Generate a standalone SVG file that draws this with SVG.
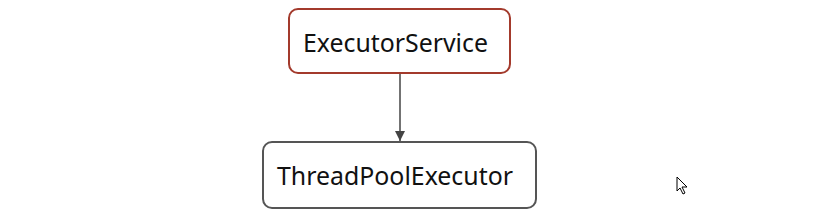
<svg xmlns="http://www.w3.org/2000/svg" width="833" height="217" viewBox="0 0 833 217">
<style>
.box{fill:#fff;stroke-width:2}
.lbl{font-family:"Noto Sans","Open Sans",sans-serif;font-size:25px;fill:#111}
</style>
<defs>
<marker id="ah" viewBox="0 0 10 10" refX="10" refY="5" markerWidth="10" markerHeight="10" markerUnits="userSpaceOnUse" orient="auto">
<path d="M0,0 L10,5 L0,10 z" fill="#444"/>
</marker>
</defs>
<rect width="833" height="217" fill="#fff"/>
<g id="connectors">
<line x1="400" y1="74" x2="400" y2="141" stroke="#444" stroke-width="1.5" marker-end="url(#ah)"/>
</g>
<g id="executorService">
<rect class="box" x="289" y="9" width="221" height="64" rx="9" stroke="#a33a2c"/>
<text class="lbl" x="303" y="52" textLength="185" lengthAdjust="spacingAndGlyphs">ExecutorService</text>
</g>
<g id="threadPoolExecutor">
<rect class="box" x="263" y="142" width="273" height="66" rx="9" stroke="#555"/>
<text class="lbl" x="277" y="185" textLength="236" lengthAdjust="spacingAndGlyphs">ThreadPoolExecutor</text>
</g>
<path d="M677,177 L677,191 L680,188 L683,194 L685,193 L682,187 L687,187 Z" fill="#fff" stroke="#000" stroke-width="1"/>
</svg>
